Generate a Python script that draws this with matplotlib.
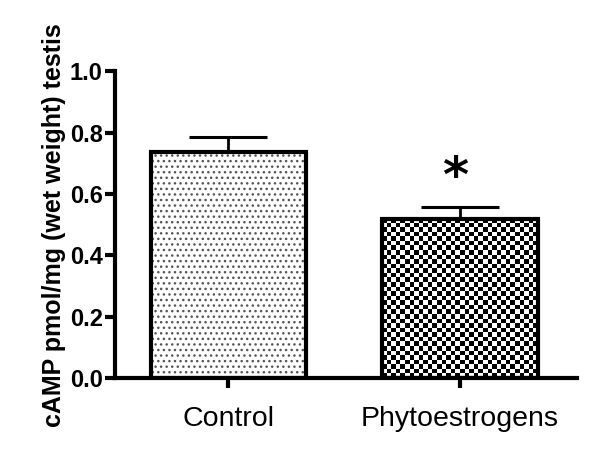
import numpy as np
import matplotlib.pyplot as plt

groups = ['Control', 'Phytoestrogens']
means = [0.735, 0.518]
sems = [0.050, 0.040]
sig = ['', '*']

plt.rcParams['font.family'] = ['Liberation Sans', 'DejaVu Sans']

fig = plt.figure(figsize=(6, 4.68), dpi=100)
ax = fig.add_axes([0.192, 0.192, 0.770, 0.656])

x = np.arange(len(groups))
w = 0.67

# error bars first so the lower cap hides under the bar edge
ax.errorbar(x, means, yerr=[[0] * len(x), sems], fmt='none', ecolor='black',
            elinewidth=2, capsize=28, capthick=2.2, zorder=1)

# control: fine dotted fill
ax.bar(x[0], means[0], w, color='white', edgecolor='#555555', linewidth=0,
       hatch='...', zorder=2)

# phytoestrogens: checkerboard fill clipped to the bar
ax.set_xlim(-0.489, 1.506)
ax.set_ylim(0, 1.0)
fig.canvas.draw()
bar1 = ax.bar(x[1], means[1], w, color='white', linewidth=0, zorder=2)[0]
p0 = ax.transData.transform((x[1] - w / 2, 0))
p1 = ax.transData.transform((x[1] + w / 2, means[1]))
cell = 4.6
nc = int(round((p1[0] - p0[0]) / cell))
nr = int(round((p1[1] - p0[1]) / cell))
chk = (np.add.outer(np.arange(nr), np.arange(nc)) % 2).astype(float)
im = ax.imshow(chk, cmap='gray', interpolation='nearest', aspect='auto',
               extent=(x[1] - w / 2, x[1] + w / 2, 0, means[1]), zorder=2.5)
im.set_clip_path(bar1)

# outlines
ax.bar(x, means, w, facecolor='none', edgecolor='black', linewidth=3, zorder=3)

for xi, m, s, t in zip(x, means, sems, sig):
    if t:
        ax.text(xi - 0.02, m + s + 0.095, t, ha='center', va='center',
                fontsize=36, family='DejaVu Sans', fontweight='bold')

ax.set_xlim(-0.489, 1.506)
ax.set_ylim(0, 1.0)
ax.set_yticks(np.arange(0, 1.01, 0.2))
ax.set_yticklabels(['%.1f' % v for v in np.arange(0, 1.01, 0.2)],
                   fontsize=17, fontweight='bold')
ax.set_xticks(x)
ax.set_xticklabels(groups, fontsize=20.5)
ax.tick_params(axis='y', length=7, width=3, pad=2)
ax.tick_params(axis='x', length=7, width=3, pad=13)
ax.set_ylabel('cAMP pmol/mg (wet weight) testis', fontsize=18,
              fontweight='bold', labelpad=3)

for sp in ['top', 'right']:
    ax.spines[sp].set_visible(False)
for sp in ['left', 'bottom']:
    ax.spines[sp].set_linewidth(3)

fig.savefig('out.png', dpi=100)
